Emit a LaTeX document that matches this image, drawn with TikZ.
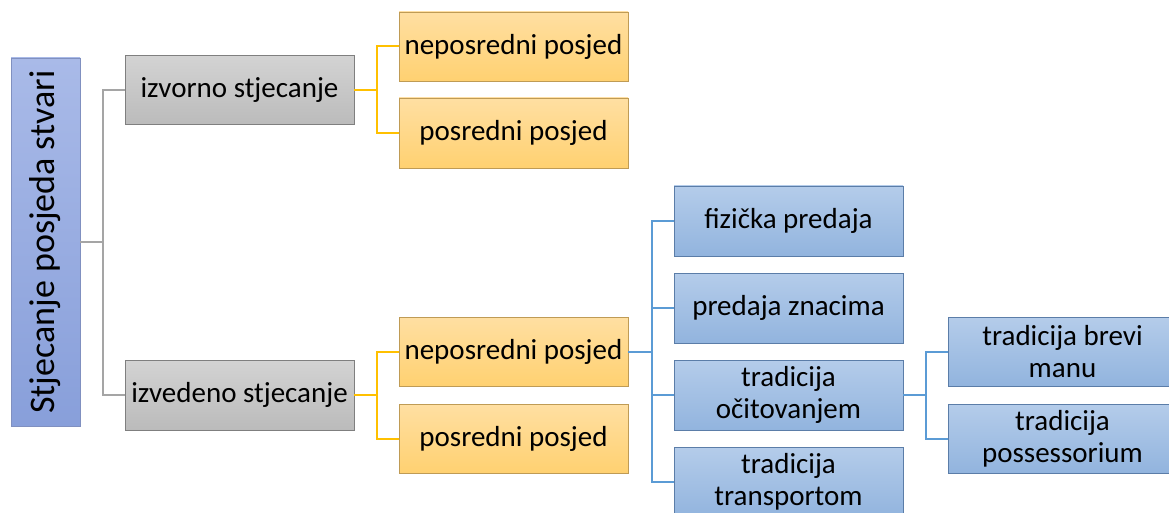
\documentclass[tikz,border=0pt]{standalone}
\usepackage{fontspec}
\setmainfont{Carlito}
\definecolor{gtop}{HTML}{D3D3D3}
\definecolor{gbot}{HTML}{BBBBBB}
\definecolor{gbrd}{HTML}{7F7F7F}
\definecolor{otop}{HTML}{FFDFA2}
\definecolor{obot}{HTML}{FFD171}
\definecolor{obrd}{HTML}{BF9B55}
\definecolor{btop}{HTML}{B4CCEA}
\definecolor{bbot}{HTML}{92B4DE}
\definecolor{bbrd}{HTML}{5B7DA8}
\definecolor{rtop}{HTML}{A9BAE8}
\definecolor{rbot}{HTML}{889FDA}
\definecolor{rbrd}{HTML}{8090C0}
\definecolor{gline}{HTML}{A5A5A5}
\definecolor{oline}{HTML}{FFC000}
\definecolor{bline}{HTML}{5B9BD5}
\tikzset{
  x=1pt, y=-1pt,
  box/.style={draw, line width=0.8pt, inner sep=0pt, minimum width=229pt, minimum height=69pt,
    align=center, font=\fontsize{29}{32}\selectfont},
  graybox/.style={box, draw=gbrd, top color=gtop, bottom color=gbot},
  orangebox/.style={box, draw=obrd, top color=otop, bottom color=obot},
  bluebox/.style={box, draw=bbrd, top color=btop, bottom color=bbot},
  rootbox/.style={draw=rbrd, line width=0.8pt, inner sep=0pt, minimum width=69pt, minimum height=368pt,
    left color=rbot, right color=rbot, top color=rtop, bottom color=rbot},
  gconn/.style={draw=gline, line width=2pt},
  oconn/.style={draw=oline, line width=2pt},
  bconn/.style={draw=bline, line width=2pt},
}
\begin{document}
\begin{tikzpicture}
\useasboundingbox (0,0) rectangle (1169,513);
\begin{scope}
\clip (0,0) rectangle (1169,513);
% root
\node[rootbox, top color=rtop, bottom color=rbot] (root) at (45.5,242) {};
\node[rotate=90, font=\fontsize{36}{40}\selectfont, inner sep=0pt] (roottext) at (root.center) {Stjecanje posjeda stvari};
% level 1
\node[graybox] (iz) at (239.5,90) {izvorno stjecanje};
\node[graybox, minimum height=70pt] (ized) at (239.5,395) {izvedeno stjecanje};
% level 2
\node[orangebox] (o1) at (513.5,46.5) {neposredni posjed};
\node[orangebox, minimum height=70pt] (o2) at (513.5,133) {posredni posjed};
\node[orangebox] (o3) at (513.5,351.5) {neposredni posjed};
\node[orangebox] (o4) at (513.5,438.5) {posredni posjed};
% level 3
\node[bluebox, minimum height=70pt] (b1) at (788.5,221) {fizička predaja};
\node[bluebox, minimum height=70pt] (b2) at (788.5,308) {predaja znacima};
\node[bluebox, minimum height=70pt] (b3) at (788.5,395) {tradicija\\očitovanjem};
\node[bluebox, minimum height=70pt] (b4) at (788.5,482) {tradicija\\transportom};
% level 4
\node[bluebox] (c1) at (1062.5,351.5) {tradicija brevi\\manu};
\node[bluebox] (c2) at (1062.5,438.5) {tradicija\\possessorium};
\end{scope}
% junction coordinates
\coordinate (j1) at (103,242);
\coordinate (j2) at (377,90);
\coordinate (j3) at (377,395);
\coordinate (j4) at (652,351.5);
\coordinate (j5) at (926,395);
% connectors
\draw[gconn] (root.east |- j1) -- (j1);
\draw[gconn] (iz.west) -| (j1) |- (ized.west);
\draw[oconn] (iz.east) -- (j2);
\draw[oconn] (o1.west) -| (j2) |- (o2.west);
\draw[oconn] (ized.east) -- (j3);
\draw[oconn] (o3.west) -| (j3) |- (o4.west);
\draw[bconn] (o3.east) -- (j4);
\draw[bconn] (b1.west) -| (j4) |- (b4.west);
\draw[bconn] (j4 |- b2.west) -- (b2.west);
\draw[bconn] (j4 |- b3.west) -- (b3.west);
\draw[bconn] (b3.east) -- (j5);
\draw[bconn] (c1.west) -| (j5) |- (c2.west);
\end{tikzpicture}
\end{document}
